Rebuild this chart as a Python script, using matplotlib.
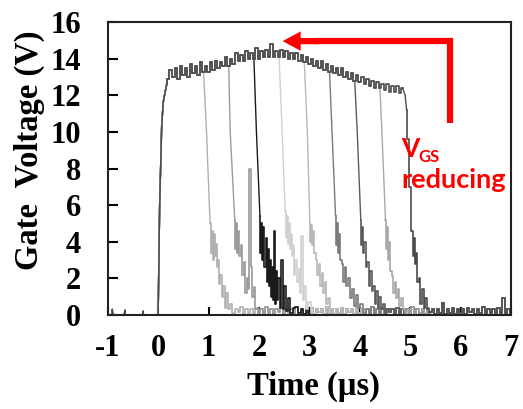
import numpy as np
import matplotlib.pyplot as plt

# tiempos de apagado (us) y tono de gris de cada forma de onda
t_off = [0.95, 1.42, 1.94, 2.45, 2.95, 3.44, 3.94, 4.43, 4.89]
grises = ['#b0b0b0', '#9a9a9a', '#1a1a1a', '#d0d0d0', '#b8b8b8',
          '#7a7a7a', '#5a5a5a', '#a8a8a8', '#4a4a4a']

# tramo antes del pulso y flanco de subida
pre_t = [-1.0, -0.92, -0.91, -0.9, -0.67, -0.66, -0.65, -0.31, -0.30, -0.29, 0.0]
pre_v = [0, 0, 0.3, 0, 0, 0.25, 0, 0, 0.2, 0, 0]
rise_t = [0.03, 0.07, 0.10, 0.14, 0.17]
rise_v = [6.0, 10.3, 11.6, 12.2, 12.6]

# meseta comun (muestras cada 0.05 us desde 0.20 us)
meseta_v = [12.9, 13.4, 13.0, 13.5, 12.9, 13.6, 13.1, 13.5, 13.0, 13.7,
            13.2, 13.6, 13.1, 13.8, 13.3, 13.6, 13.3, 13.8, 13.4, 13.9,
            13.5, 13.8, 13.6, 14.1, 13.6, 14.0, 13.7, 14.3, 13.9, 14.2,
            13.9, 14.4, 14.0, 14.3, 14.0, 14.6, 14.0, 14.4, 14.1, 14.5,
            14.1, 14.8, 14.1, 14.4, 14.1, 14.5, 14.1, 14.4, 14.0, 14.3,
            14.0, 14.3, 13.9, 14.2, 13.8, 14.1, 13.7, 14.0, 13.6, 13.9,
            13.5, 13.9, 13.4, 13.7, 13.3, 13.6, 13.2, 13.5, 13.1, 13.5,
            13.0, 13.3, 12.9, 13.2, 12.8, 13.1, 12.7, 13.0, 12.6, 12.9,
            12.5, 12.8, 12.4, 12.7, 12.4, 12.6, 12.3, 12.6, 12.2, 12.5,
            12.2, 12.5, 12.1, 12.4, 12.1]
meseta_t = 0.20 + 0.05 * np.arange(len(meseta_v))

# caida de cada forma de onda
caida_t = [
    [0.96, 1.03, 1.05, 1.07, 1.09, 1.11, 1.13, 1.15, 1.17, 1.19, 1.22, 1.25, 1.28, 1.31, 1.34, 1.37, 1.40, 1.44, 1.48],
    [1.43, 1.52, 1.54, 1.56, 1.58, 1.60, 1.62, 1.65, 1.68, 1.71, 1.74, 1.77, 1.80, 1.82, 1.85, 1.88, 1.91, 1.95, 2.00],
    [1.95, 2.02, 2.04, 2.06, 2.08, 2.10, 2.12, 2.14, 2.16, 2.18, 2.20, 2.22, 2.24, 2.26, 2.28, 2.31, 2.33, 2.35, 2.37,
     2.40, 2.43, 2.46, 2.49, 2.52, 2.56, 2.60, 2.65, 2.70],
    [2.46, 2.52, 2.54, 2.56, 2.58, 2.60, 2.62, 2.64, 2.66, 2.68, 2.71, 2.74, 2.77, 2.80, 2.83, 2.85, 2.88, 2.92, 2.96, 3.00, 3.05],
    [2.96, 3.01, 3.03, 3.05, 3.07, 3.09, 3.11, 3.14, 3.17, 3.20, 3.23, 3.26, 3.29, 3.32, 3.35, 3.38, 3.42],
    [3.45, 3.52, 3.54, 3.56, 3.58, 3.60, 3.63, 3.66, 3.69, 3.72, 3.75, 3.78, 3.82, 3.86, 3.90, 3.94, 3.98, 4.03, 4.08],
    [3.95, 4.02, 4.04, 4.06, 4.08, 4.10, 4.13, 4.16, 4.19, 4.22, 4.25, 4.28, 4.31, 4.34, 4.37, 4.40, 4.44, 4.48, 4.53],
    [4.44, 4.51, 4.53, 4.55, 4.57, 4.59, 4.62, 4.65, 4.68, 4.71, 4.74, 4.77, 4.80, 4.84, 4.88, 4.93],
    [4.90, 4.93, 4.95, 5.00, 5.05, 5.07, 5.09, 5.11, 5.13, 5.16, 5.19, 5.22, 5.25, 5.28, 5.31, 5.35, 5.39],
]
caida_v = [
    [10.0, 5.0, 3.4, 4.6, 3.0, 4.4, 3.2, 3.9, 2.6, 3.0, 1.7, 2.2, 1.0, 1.6, 0.4, 1.2, 0.3, 0.6, 0.1],
    [10.0, 5.2, 3.6, 5.0, 3.4, 4.6, 3.2, 3.8, 2.2, 2.9, 1.2, 2.0, 1.4, 8.0, 2.6, 1.0, 1.5, 0.3, 0.1],
    [10.0, 5.4, 3.4, 5.0, 3.0, 4.8, 2.6, 4.2, 1.8, 3.6, 1.6, 3.0, 1.0, 2.6, 0.8, 4.6, 0.6, 2.4, 0.8,
     2.0, 0.4, 3.0, 0.3, 1.6, 0.2, 0.9, 0.1, 0.4],
    [10.0, 5.7, 4.2, 5.4, 3.9, 5.0, 3.6, 4.4, 3.2, 3.8, 2.2, 3.0, 1.8, 2.5, 1.2, 4.3, 0.8, 1.6, 0.3, 0.7, 0.1],
    [10.0, 5.0, 4.0, 4.9, 3.8, 4.6, 3.4, 3.0, 2.2, 2.8, 1.6, 2.3, 1.2, 1.8, 0.6, 0.9, 0.1],
    [10.0, 5.4, 3.8, 5.0, 3.4, 4.4, 3.0, 2.8, 1.8, 2.6, 1.6, 2.0, 0.9, 1.4, 0.5, 1.1, 0.4, 0.6, 0.1],
    [10.0, 5.2, 3.8, 4.8, 3.4, 4.0, 2.6, 2.9, 1.6, 2.4, 1.3, 1.6, 0.6, 1.3, 0.4, 1.0, 0.3, 0.6, 0.1],
    [10.0, 5.2, 3.6, 4.8, 3.0, 4.0, 2.4, 2.1, 1.2, 1.8, 0.9, 1.4, 0.5, 0.9, 0.3, 0.1],
    [12.0, 11.2, 9.6, 7.0, 4.6, 3.2, 4.2, 2.8, 3.4, 1.8, 2.0, 0.6, 1.4, 0.4, 0.9, 0.3, 0.1],
]

# ruido de la linea base (muestras cada 0.05 us desde 1.0 us)
base_v = [0.1, 0.35, 0.05, 0.3, 0.1, 0.4, 0.05, 0.25, 0.1, 0.35,
          0.05, 0.3, 0.15, 0.45, 0.05, 0.3, 0.1, 0.35, 0.05, 0.4,
          0.1, 0.3, 0.05, 0.45, 0.1, 0.35, 0.05, 0.3, 0.15, 0.4,
          0.05, 0.35, 0.1, 0.3, 0.05, 0.45, 0.1, 0.3, 0.05, 0.35,
          0.1, 0.4, 0.05, 0.3, 0.15, 0.35, 0.05, 0.45, 0.1, 0.3,
          0.05, 0.35, 0.1, 0.4, 0.05, 0.3, 0.15, 0.35, 0.05, 0.45,
          0.1, 0.3, 0.05, 0.35, 0.1, 0.45, 0.05, 0.3, 0.1, 0.4,
          0.05, 0.35, 0.15, 0.3, 0.05, 0.4, 0.1, 0.35, 0.05, 0.3,
          0.1, 0.45, 0.05, 0.3, 0.1, 0.35, 0.05, 0.4, 0.15, 0.3,
          0.05, 0.35, 0.1, 0.65, 0.05, 0.3, 0.1, 0.4, 0.05, 0.35,
          0.1, 0.3, 0.05, 0.4, 0.15, 0.35, 0.05, 0.3, 0.1, 0.45,
          0.05, 0.3, 0.1, 0.35, 0.05, 0.4, 0.1, 0.9, 0.05, 0.35,
          0.1]
base_t = 1.0 + 0.05 * np.arange(len(base_v))

plt.rcParams['font.family'] = 'Liberation Serif'
plt.rcParams['font.weight'] = 'bold'
plt.rcParams['axes.unicode_minus'] = False

fig = plt.figure(figsize=(5.23, 4.09), dpi=100)
ax = fig.add_axes([0.206, 0.230, 0.771, 0.716])

for i, tf in enumerate(t_off):
    m = meseta_t < tf
    fin = caida_t[i][-1]
    b = base_t > fin
    # flanco y meseta como linea, ruido posterior en escalones
    t1 = np.concatenate([pre_t, rise_t])
    v1 = np.concatenate([pre_v, rise_v])
    t2 = np.concatenate([rise_t[-1:], meseta_t[m]])
    v2 = np.concatenate([rise_v[-1:], np.array(meseta_v)[m]])
    t3 = np.concatenate([meseta_t[m][-1:], caida_t[i][:2]])
    v3 = np.concatenate([np.array(meseta_v)[m][-1:], caida_v[i][:2]])
    t4 = np.concatenate([caida_t[i][1:], base_t[b]])
    v4 = np.concatenate([caida_v[i][1:], np.array(base_v)[b]])
    ax.plot(t1, v1, color=grises[i], lw=1.0)
    ax.plot(t2, v2, color=grises[i], lw=1.2, drawstyle='steps-mid')
    ax.plot(t3, v3, color=grises[i], lw=1.0)
    ax.plot(t4, v4, color=grises[i], lw=1.2, drawstyle='steps-mid')

# flecha roja
ax.plot([5.8, 5.8, 3.1], [10.5, 14.96, 14.96], color='red', lw=4.5,
        solid_joinstyle='miter', solid_capstyle='butt')
ax.annotate('', xy=(2.47, 14.96), xytext=(3.2, 14.96),
            arrowprops=dict(facecolor='red', edgecolor='none', width=4.5,
                            headwidth=14, headlength=13, shrink=0))

ax.text(4.83, 8.63, 'V', color='red', fontsize=19, family='Lato',
        fontweight='bold', va='baseline', ha='left')
ax.text(5.16, 8.36, 'GS', color='red', fontsize=12, family='Lato',
        fontweight='bold', va='baseline', ha='left')
ax.text(4.83, 6.94, 'reducing', color='red', fontsize=19.5, family='Lato',
        fontweight='bold', va='baseline', ha='left')

ax.set_xlim(-1, 7)
ax.set_ylim(0, 16)
ax.set_xticks(range(-1, 8))
ax.set_yticks(range(0, 17, 2))
ax.tick_params(axis='y', direction='in', length=7, width=1.5, labelsize=22, pad=19)
ax.tick_params(axis='x', direction='in', length=6, width=1.5, labelsize=22, pad=14)

ax.set_xlabel('Time (\u00b5s)', fontsize=23.5, fontweight='bold')
ax.xaxis.set_label_coords(0.509, -0.19)
ax.set_ylabel('Gate  Voltage (V)', fontsize=23.5, fontweight='bold')
ax.yaxis.set_label_coords(-0.155, 0.563)

for spine in ax.spines.values():
    spine.set_linewidth(1.5)
    spine.set_color('#222222')

plt.savefig('out.png', dpi=100)
